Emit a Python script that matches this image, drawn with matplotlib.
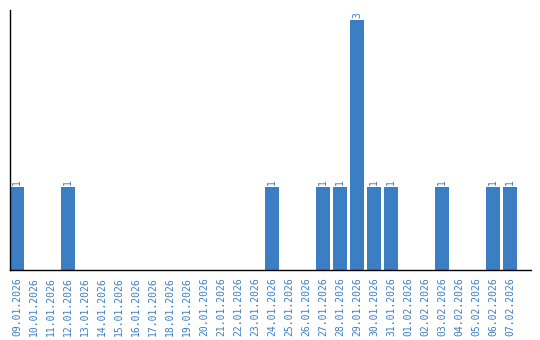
import matplotlib

matplotlib.use("Agg")
import matplotlib.pyplot as plt
import numpy as np

BLUE = "#3b7ec3"

dates = [
    "09.01.2026", "10.01.2026", "11.01.2026", "12.01.2026", "13.01.2026",
    "14.01.2026", "15.01.2026", "16.01.2026", "17.01.2026", "18.01.2026",
    "19.01.2026", "20.01.2026", "21.01.2026", "22.01.2026", "23.01.2026",
    "24.01.2026", "25.01.2026", "26.01.2026", "27.01.2026", "28.01.2026",
    "29.01.2026", "30.01.2026", "31.01.2026", "01.02.2026", "02.02.2026",
    "03.02.2026", "04.02.2026", "05.02.2026", "06.02.2026", "07.02.2026",
]
counts = [1, 0, 0, 1, 0, 0, 0, 0, 0, 0,
          0, 0, 0, 0, 0, 1, 0, 0, 1, 1,
          3, 1, 1, 0, 0, 1, 0, 0, 1, 1]

width = 0.82
fig = plt.figure(figsize=(5.4, 3.4), dpi=100)
ax = fig.add_axes([10 / 540, 70 / 340, 521 / 540, 260 / 340])

x = np.arange(len(dates))
ax.bar(x, counts, width=width, color=BLUE)
for xi, v in zip(x, counts):
    if v:
        ax.text(xi, v + 0.02, str(v), rotation=90, ha="center", va="bottom",
                fontsize=7, color=BLUE, family="DejaVu Sans Mono")

ax.set_xlim(-width / 2, len(dates) - 1 + width / 2 + 0.82)
ax.set_ylim(0, 3.12)
ax.set_yticks([])
ax.set_xticks(x)
ax.set_xticklabels(dates, rotation=90, fontsize=7, color=BLUE,
                   family="DejaVu Sans Mono")
ax.tick_params(axis="x", length=0, pad=5)
ax.spines["top"].set_visible(False)
ax.spines["right"].set_visible(False)
ax.spines["left"].set_linewidth(1.0)
ax.spines["bottom"].set_linewidth(1.0)

fig.savefig("out.png", dpi=100)
